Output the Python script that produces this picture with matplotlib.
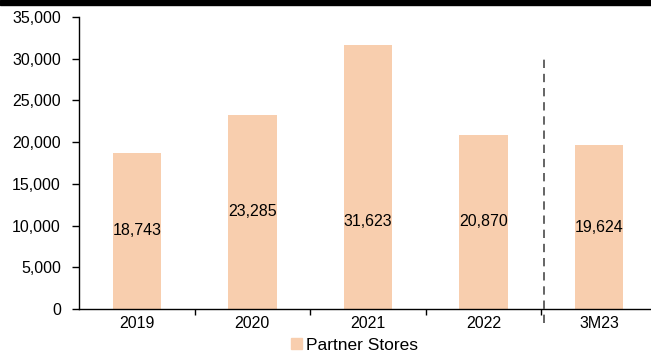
import matplotlib
matplotlib.use("Agg")
import matplotlib.pyplot as plt
from matplotlib.patches import Rectangle, Patch
from matplotlib.ticker import FuncFormatter, FixedLocator
import numpy as np

plt.rcParams['font.family'] = ['Liberation Sans', 'DejaVu Sans']

categories = ["2019", "2020", "2021", "2022", "3M23"]
partner_stores = [18743, 23285, 31623, 20870, 19624]
series_name = "Partner Stores"
bar_color = "#F8CEAE"

fig = plt.figure(figsize=(6.51, 3.54), dpi=100)
ax = fig.add_axes([79 / 651, 1 - 309 / 354, 1 - 79 / 651, (309 - 17) / 354])

x = np.arange(len(categories))
ax.bar(x, partner_stores, width=0.42, color=bar_color, zorder=2)

# value labels inside the bars (the tallest one sits lower than mid-height)
for xi, v in zip(x, partner_stores):
    y = v / 2 if v < 30000 else v / 3
    ax.text(xi, y, f"{v:,}", ha="center", va="center", fontsize=11.5, color="black", zorder=3)

ax.set_xlim(-0.5, 4.45)
ax.set_ylim(0, 35000)
ax.set_yticks(np.arange(0, 35001, 5000))
ax.yaxis.set_major_formatter(FuncFormatter(lambda v, p: f"{int(v):,}"))

ax.set_xticks(x)
ax.set_xticklabels(categories)
ax.xaxis.set_minor_locator(FixedLocator([0.5, 1.5, 2.5, 3.5]))
ax.tick_params(axis="x", which="major", length=0, labelsize=11.5, pad=5)
ax.tick_params(axis="x", which="minor", length=4, width=1, direction="out")
ax.tick_params(axis="y", length=5, width=1, direction="out", labelsize=11.5, pad=8)

for s in ["top", "right"]:
    ax.spines[s].set_visible(False)
for s in ["left", "bottom"]:
    ax.spines[s].set_linewidth(1.0)
    ax.spines[s].set_color("black")

# separator between full years and the quarter
ax.axvline(3.52, ymin=-0.048, ymax=30600 / 35000, color="#4a4a4a", linestyle=(0, (5, 3.5)),
           linewidth=1.2, zorder=1, clip_on=False)

# thick rule across the top of the figure
fig.add_artist(Rectangle((0, 1 - 5 / 354), 1, 5 / 354, transform=fig.transFigure, color="black"))

leg = fig.legend(handles=[Patch(color=bar_color, label=series_name)], loc="lower center",
                 bbox_to_anchor=(0.545, -0.04), frameon=False, fontsize=12.5,
                 handlelength=0.6, handleheight=0.6, handletextpad=0.25)

fig.savefig("out.png", dpi=100)
